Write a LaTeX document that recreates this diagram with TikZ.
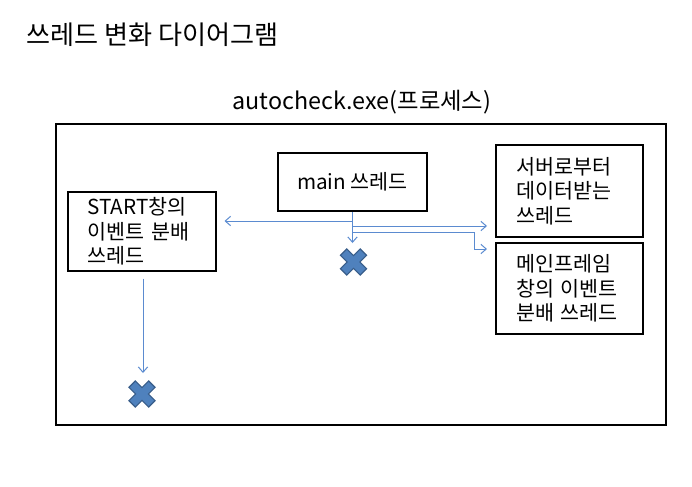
\documentclass[tikz,border=0pt]{standalone}
\usepackage{fontspec}
\setmainfont{Noto Sans CJK KR}
\usepackage{tikz}
\usetikzlibrary{arrows.meta, positioning}

\definecolor{flowblue}{RGB}{91,139,208}
\definecolor{xfill}{RGB}{79,129,189}
\definecolor{xline}{RGB}{56,93,138}

\begin{document}
\begin{tikzpicture}[x=0.75pt, y=-0.75pt]
\tikzstyle{thread}=[rectangle, draw=black, line width=1.5pt, inner xsep=15pt, inner ysep=0pt, align=left, font=\fontsize{15.5}{18.4}\selectfont]
\tikzstyle{flow}=[-{Straight Barb[length=4pt, width=7pt]}, draw=flowblue, line width=0.75pt]
\tikzset{killmark/.pic={
  \filldraw[fill=xfill, draw=xline, line width=0.9pt, rotate=45]
    (14,4.5) -- (4.5,4.5) -- (4.5,14) -- (-4.5,14) -- (-4.5,4.5) -- (-14,4.5)
    -- (-14,-4.5) -- (-4.5,-4.5) -- (-4.5,-14) -- (4.5,-14) -- (4.5,-4.5) -- (14,-4.5) -- cycle;
}}
\useasboundingbox (0,0) rectangle (692,486);

% headings
\node[anchor=west, font=\fontsize{19.6}{22}\selectfont] (title) at (22,35) {쓰레드 변화 다이어그램};
\node[font=\fontsize{17.5}{20}\selectfont] (proc) at (362,102) {autocheck.exe(프로세스)};
\draw[line width=1.5pt] (56,124) rectangle (666,425);

% threads
\node[thread, minimum width=149*0.75pt, minimum height=58*0.75pt, inner xsep=0pt, align=center] (main) at (352.5,182) {main 쓰레드};
\node[thread, text width=108*0.75pt, minimum height=79*0.75pt] (start) at (141.5,231.5) {START창의\\이벤트 분배\\쓰레드};
\node[thread, text width=107*0.75pt, minimum height=92*0.75pt] (server) at (569.5,191) {서버로부터\\데이터받는\\쓰레드};
\node[thread, text width=107*0.75pt, minimum height=91*0.75pt] (frame) at (569.5,288.5) {메인프레임\\창의 이벤트\\분배 쓰레드};

% ends of threads
\pic at (353.5,262) {killmark};
\pic at (142,394) {killmark};
\coordinate (mainend) at (352.5,243);
\coordinate (startend) at (143,373);
\coordinate (bend) at (474,232);

% connectors
\draw[flowblue, line width=0.75pt] (main.south) -- (352.5,232);
\draw[flow] (352.5,232) -- (mainend);
\draw[flow, shorten >=6pt] (main.south |- 0,221) -- (start.east |- 0,221);
\draw[flow, shorten >=6pt] (main.south |- 0,226) -- (server.west |- 0,226);
\draw[flow, shorten >=6pt] (main.south |- 0,232) -- (bend) |- (frame.west |- 0,249);
\draw[flow, shorten <=5pt] (start.south -| startend) -- (startend);
\end{tikzpicture}
\end{document}
